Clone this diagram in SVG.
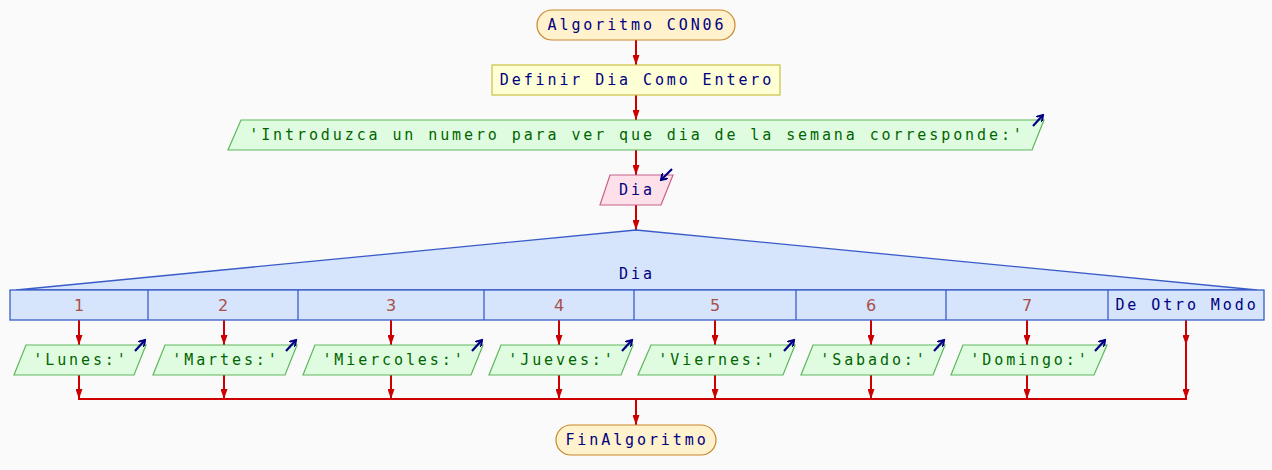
<svg xmlns="http://www.w3.org/2000/svg" width="1272" height="470" viewBox="0 0 1272 470">
  <defs>
    <marker id="ah" viewBox="0 0 10 7" refX="10" refY="3.5" markerWidth="10" markerHeight="7" markerUnits="userSpaceOnUse" orient="auto">
      <path d="M0,0 L10,3.5 L0,7 Z" fill="#cc0000"/>
    </marker>
    <marker id="io" viewBox="0 0 8 8" refX="6" refY="4" markerWidth="8" markerHeight="8" markerUnits="userSpaceOnUse" orient="auto">
      <path d="M0,0 L6,4 L0,8" fill="none" stroke="#000080" stroke-width="2"/>
    </marker>
  </defs>
  <style>
    .t { font-family: "DejaVu Sans Mono", "Liberation Mono", monospace; font-size: 15px; letter-spacing: 2.9px; text-anchor: middle; dominant-baseline: central; }
    .navy { fill: #000080; }
    .green { fill: #006400; }
    .num { font-family: "DejaVu Sans", "Liberation Sans", sans-serif; font-size: 16px; fill: #a85048; text-anchor: middle; dominant-baseline: central; }
    .term { fill: #fff2cc; stroke: #c9862a; stroke-width: 1.2; }
    .proc { fill: #ffffd6; stroke: #c8c040; stroke-width: 1.2; }
    .out { fill: #e0fce0; stroke: #5cb85c; stroke-width: 1.2; }
    .in { fill: #fde0ea; stroke: #c8608a; stroke-width: 1.2; }
    .sw { fill: #d6e4fc; stroke: #3a5cc8; stroke-width: 1.3; }
    .edge { stroke: #cc0000; stroke-width: 2; fill: none; }
    .icon { stroke: #000080; stroke-width: 2.2; fill: none; }
  </style>
  <rect x="0" y="0" width="1272" height="470" fill="#fafafa"/>

  <g id="connectors">
    <line class="edge" x1="636" y1="40" x2="636" y2="65" marker-end="url(#ah)"/>
    <line class="edge" x1="636" y1="95" x2="636" y2="120" marker-end="url(#ah)"/>
    <line class="edge" x1="636" y1="150" x2="636" y2="175" marker-end="url(#ah)"/>
    <line class="edge" x1="636" y1="205" x2="636" y2="230" marker-end="url(#ah)"/>
    <!-- case branches -->
    <line class="edge" x1="79" y1="320" x2="79" y2="345" marker-end="url(#ah)"/>
    <line class="edge" x1="224" y1="320" x2="224" y2="345" marker-end="url(#ah)"/>
    <line class="edge" x1="391" y1="320" x2="391" y2="345" marker-end="url(#ah)"/>
    <line class="edge" x1="559" y1="320" x2="559" y2="345" marker-end="url(#ah)"/>
    <line class="edge" x1="715" y1="320" x2="715" y2="345" marker-end="url(#ah)"/>
    <line class="edge" x1="871" y1="320" x2="871" y2="345" marker-end="url(#ah)"/>
    <line class="edge" x1="1027" y1="320" x2="1027" y2="345" marker-end="url(#ah)"/>
    <line class="edge" x1="1186" y1="320" x2="1186" y2="345" marker-end="url(#ah)"/>
    <line class="edge" x1="1186" y1="344" x2="1186" y2="399" marker-end="url(#ah)"/>
    <!-- merge -->
    <line class="edge" x1="79" y1="375" x2="79" y2="399" marker-end="url(#ah)"/>
    <line class="edge" x1="224" y1="375" x2="224" y2="399" marker-end="url(#ah)"/>
    <line class="edge" x1="391" y1="375" x2="391" y2="399" marker-end="url(#ah)"/>
    <line class="edge" x1="559" y1="375" x2="559" y2="399" marker-end="url(#ah)"/>
    <line class="edge" x1="715" y1="375" x2="715" y2="399" marker-end="url(#ah)"/>
    <line class="edge" x1="871" y1="375" x2="871" y2="399" marker-end="url(#ah)"/>
    <line class="edge" x1="1027" y1="375" x2="1027" y2="399" marker-end="url(#ah)"/>
    <line class="edge" x1="78" y1="399" x2="1187" y2="399"/>
    <line class="edge" x1="636" y1="399" x2="636" y2="425" marker-end="url(#ah)"/>
  </g>

  <g id="start">
    <rect class="term" x="537" y="10" width="198" height="30" rx="15" ry="15"/>
    <text class="t navy" x="637" y="25">Algoritmo CON06</text>
  </g>

  <g id="define">
    <rect class="proc" x="492" y="65" width="288" height="30"/>
    <text class="t navy" x="637" y="80">Definir Dia Como Entero</text>
  </g>

  <g id="prompt">
    <polygon class="out" points="241,120 1044,120 1032,150 228,150"/>
    <text class="t green" x="637" y="135">'Introduzca un numero para ver que dia de la semana corresponde:'</text>
    <line class="icon" x1="1033" y1="126" x2="1043" y2="115" marker-end="url(#io)"/>
  </g>

  <g id="read">
    <polygon class="in" points="610,175 673,175 661,205 600,205"/>
    <text class="t navy" x="637" y="190">Dia</text>
    <line class="icon" x1="672" y1="169" x2="661" y2="180" marker-end="url(#io)"/>
  </g>

  <g id="switch">
    <polygon class="sw" points="636,230 1257,290 16,290"/>
    <text class="t navy" x="637" y="274">Dia</text>
    <rect class="sw" x="10" y="290" width="1254" height="30"/>
    <line class="sw" x1="148" y1="290" x2="148" y2="320"/>
    <line class="sw" x1="298" y1="290" x2="298" y2="320"/>
    <line class="sw" x1="484" y1="290" x2="484" y2="320"/>
    <line class="sw" x1="634" y1="290" x2="634" y2="320"/>
    <line class="sw" x1="796" y1="290" x2="796" y2="320"/>
    <line class="sw" x1="946" y1="290" x2="946" y2="320"/>
    <line class="sw" x1="1108" y1="290" x2="1108" y2="320"/>
    <text class="num" x="79" y="305">1</text>
    <text class="num" x="223" y="305">2</text>
    <text class="num" x="391" y="305">3</text>
    <text class="num" x="559" y="305">4</text>
    <text class="num" x="715" y="305">5</text>
    <text class="num" x="871" y="305">6</text>
    <text class="num" x="1027" y="305">7</text>
    <text class="t navy" x="1187" y="305">De Otro Modo</text>
  </g>

  <g id="out-lunes">
    <polygon class="out" points="26,345 146,345 134,375 14,375"/>
    <text class="t green" x="81" y="360">'Lunes:'</text>
    <line class="icon" x1="135" y1="351" x2="145" y2="340" marker-end="url(#io)"/>
  </g>
  <g id="out-martes">
    <polygon class="out" points="165,345 297,345 285,375 153,375"/>
    <text class="t green" x="226" y="360">'Martes:'</text>
    <line class="icon" x1="286" y1="351" x2="296" y2="340" marker-end="url(#io)"/>
  </g>
  <g id="out-miercoles">
    <polygon class="out" points="315,345 483,345 471,375 303,375"/>
    <text class="t green" x="394" y="360">'Miercoles:'</text>
    <line class="icon" x1="472" y1="351" x2="482" y2="340" marker-end="url(#io)"/>
  </g>
  <g id="out-jueves">
    <polygon class="out" points="501,345 633,345 621,375 489,375"/>
    <text class="t green" x="562" y="360">'Jueves:'</text>
    <line class="icon" x1="622" y1="351" x2="632" y2="340" marker-end="url(#io)"/>
  </g>
  <g id="out-viernes">
    <polygon class="out" points="651,345 795,345 783,375 638,375"/>
    <text class="t green" x="718" y="360">'Viernes:'</text>
    <line class="icon" x1="784" y1="351" x2="794" y2="340" marker-end="url(#io)"/>
  </g>
  <g id="out-sabado">
    <polygon class="out" points="813,345 945,345 933,375 801,375"/>
    <text class="t green" x="874" y="360">'Sabado:'</text>
    <line class="icon" x1="934" y1="351" x2="944" y2="340" marker-end="url(#io)"/>
  </g>
  <g id="out-domingo">
    <polygon class="out" points="963,345 1107,345 1094,375 951,375"/>
    <text class="t green" x="1030" y="360">'Domingo:'</text>
    <line class="icon" x1="1095" y1="351" x2="1105" y2="340" marker-end="url(#io)"/>
  </g>

  <g id="end">
    <rect class="term" x="556" y="425" width="160" height="30" rx="15" ry="15"/>
    <text class="t navy" x="637" y="440">FinAlgoritmo</text>
  </g>
</svg>
